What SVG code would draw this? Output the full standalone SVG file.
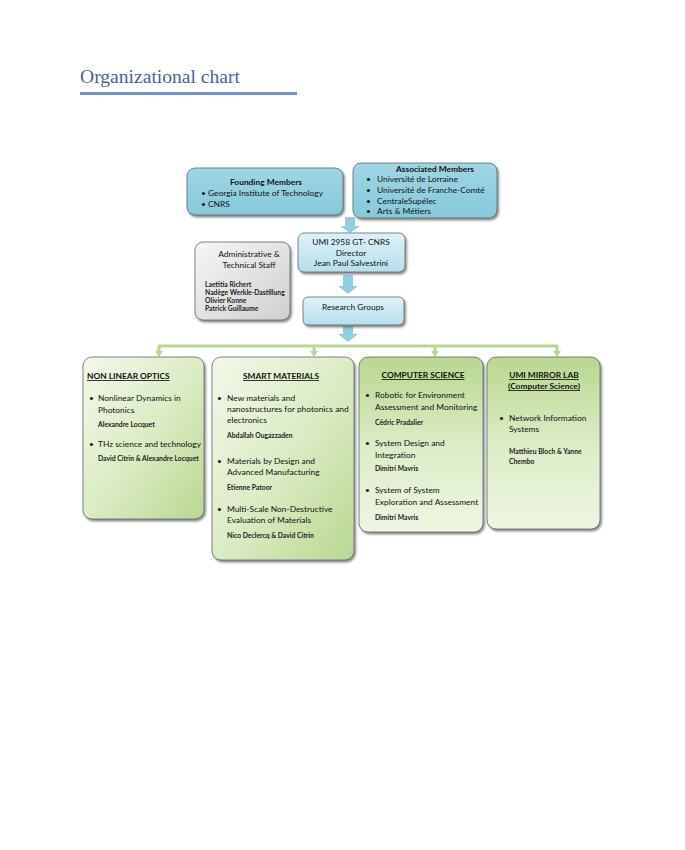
<svg xmlns="http://www.w3.org/2000/svg" width="685" height="850" viewBox="0 0 685 850">
<defs>
  <linearGradient id="gTeal" x1="0" y1="0" x2="0" y2="1">
    <stop offset="0" stop-color="#9fd6e4"/>
    <stop offset="1" stop-color="#86c9db"/>
  </linearGradient>
  <linearGradient id="gLightBlue" x1="0" y1="0" x2="0" y2="1">
    <stop offset="0" stop-color="#dff1f8"/>
    <stop offset="1" stop-color="#b5dfec"/>
  </linearGradient>
  <linearGradient id="gGray" x1="0" y1="0" x2="1" y2="1">
    <stop offset="0" stop-color="#f6f6f6"/>
    <stop offset="1" stop-color="#cfcfcf"/>
  </linearGradient>
  <linearGradient id="gGreen" x1="0" y1="0" x2="1" y2="1">
    <stop offset="0" stop-color="#f3f8ea"/>
    <stop offset="0.5" stop-color="#dcecc5"/>
    <stop offset="1" stop-color="#b9d891"/>
  </linearGradient>
  <linearGradient id="gGreen2" x1="0" y1="0" x2="0" y2="1">
    <stop offset="0" stop-color="#b8d78f"/>
    <stop offset="0.5" stop-color="#dcecc6"/>
    <stop offset="1" stop-color="#eef6e2"/>
  </linearGradient>
  <filter id="shadow" x="-10%" y="-10%" width="125%" height="125%">
    <feDropShadow dx="1.5" dy="2" stdDeviation="1.2" flood-color="#555" flood-opacity="0.7"/>
  </filter>
</defs>
<style>
  .t { font-family: Lato, "Liberation Sans", sans-serif; fill: #111; }
  .m { font-size: 8.4px; }
  .b { font-weight: bold; }
  .s { font-size: 6.8px; font-weight: bold; fill: #222; }
  .c { text-anchor: middle; }
  .u { text-decoration: underline; }
  .box { stroke: #5f6b70; stroke-width: 0.8; filter: url(#shadow); }
  .arrow { fill: #8fcfe0; }
  .conn { stroke: #b7d795; stroke-width: 3; fill: none; }
  .connhead { fill: #b7d795; }
</style>

<g id="title">
  <text x="80" y="83" font-family="'Liberation Serif', serif" font-size="19.5" fill="#4b5fa0" textLength="160" lengthAdjust="spacingAndGlyphs">Organizational chart</text>
  <rect x="80" y="92" width="217" height="3" fill="#7391c8"/>
</g>

<g id="connectors">
  <polygon class="arrow" points="345,217 355,217 355,226 360,226 350,233 340,226 345,226"/>
  <polygon class="arrow" points="343,275 353,275 353,286 358,286 348,294 338,286 343,286"/>
  <polygon class="arrow" points="343,326 353,326 353,334 358,334 348,342 338,334 343,334"/>
  <path class="conn" d="M158,346 H558"/>
  <path class="conn" d="M159,346 V352 M314,346 V352 M435,346 V352 M557,346 V352"/>
  <polygon class="connhead" points="155,351 163,351 159,357"/>
  <polygon class="connhead" points="310,351 318,351 314,357"/>
  <polygon class="connhead" points="431,351 439,351 435,357"/>
  <polygon class="connhead" points="553,351 561,351 557,357"/>
</g>

<g id="founding">
  <rect class="box" x="187" y="168" width="156" height="47" rx="8" fill="url(#gTeal)"/>
  <text class="t m b c" x="266" y="185">Founding Members</text>
  <text class="t m" x="201" y="196">• Georgia Institute  of Technology</text>
  <text class="t m" x="201" y="207">• CNRS</text>
</g>

<g id="associated">
  <rect class="box" x="353" y="163" width="144" height="55" rx="8" fill="url(#gTeal)"/>
  <text class="t m b c" x="435" y="172">Associated Members</text>
  <text class="t m" x="366" y="182">•</text><text class="t m" x="377" y="182">Université de Lorraine</text>
  <text class="t m" x="366" y="193">•</text><text class="t m" x="377" y="193">Université de Franche-Comté</text>
  <text class="t m" x="366" y="204">•</text><text class="t m" x="377" y="204">CentraleSupélec</text>
  <text class="t m" x="366" y="214">•</text><text class="t m" x="377" y="214">Arts &amp; Métiers</text>
</g>

<g id="umi">
  <rect class="box" x="298" y="233" width="107" height="39" rx="6" fill="url(#gLightBlue)"/>
  <text class="t m c" x="351" y="245">UMI 2958 GT- CNRS</text>
  <text class="t m c" x="351" y="256">Director</text>
  <text class="t m c" x="351" y="266">Jean Paul Salvestrini</text>
</g>

<g id="admin">
  <rect class="box" x="195" y="242" width="95" height="78" rx="8" fill="url(#gGray)"/>
  <text class="t m c" x="249" y="257">Administrative &amp;</text>
  <text class="t m c" x="249" y="268">Technical Staff</text>
  <text class="t s" x="205" y="287">Laetitia Richert</text>
  <text class="t s" x="205" y="295">Nadège Werkle-Dastillung</text>
  <text class="t s" x="205" y="303">Olivier Konne</text>
  <text class="t s" x="205" y="311">Patrick Guillaume</text>
</g>

<g id="research">
  <rect class="box" x="303" y="297" width="101" height="28" rx="5" fill="url(#gLightBlue)"/>
  <text class="t m c" x="353" y="310">Research Groups</text>
</g>

<g id="nlo">
  <rect class="box" x="83" y="357" width="121" height="162" rx="9" fill="url(#gGreen)"/>
  <text class="t m b u" x="87" y="379">NON LINEAR OPTICS</text>
  <text class="t m" x="89" y="401">•</text>
  <text class="t m" x="98" y="401">Nonlinear Dynamics in</text>
  <text class="t m" x="98" y="413">Photonics</text>
  <text class="t s" x="98" y="427">Alexandre Locquet</text>
  <text class="t m" x="89" y="447">•</text>
  <text class="t m" x="98" y="447">THz science and technology</text>
  <text class="t s" x="98" y="461">David Citrin &amp; Alexandre Locquet</text>
</g>

<g id="smart">
  <rect class="box" x="212" y="357" width="142" height="203" rx="9" fill="url(#gGreen)"/>
  <text class="t m b u c" x="281" y="379">SMART MATERIALS</text>
  <text class="t m" x="217" y="401">•</text>
  <text class="t m" x="227" y="401">New materials and</text>
  <text class="t m" x="227" y="412">nanostructures for photonics and</text>
  <text class="t m" x="227" y="423">electronics</text>
  <text class="t s" x="227" y="438">Abdallah Ougazzaden</text>
  <text class="t m" x="217" y="464">•</text>
  <text class="t m" x="227" y="464">Materials by Design and</text>
  <text class="t m" x="227" y="475">Advanced Manufacturing</text>
  <text class="t s" x="227" y="490">Etienne Patoor</text>
  <text class="t m" x="217" y="512">•</text>
  <text class="t m" x="227" y="512">Multi-Scale Non-Destructive</text>
  <text class="t m" x="227" y="523">Evaluation of Materials</text>
  <text class="t s" x="227" y="538">Nico Declercq &amp; David Citrin</text>
</g>

<g id="cs">
  <rect class="box" x="359" y="357" width="124" height="175" rx="9" fill="url(#gGreen2)"/>
  <text class="t m b u c" x="423" y="378">COMPUTER SCIENCE</text>
  <text class="t m" x="365" y="398">•</text>
  <text class="t m" x="375" y="398">Robotic for Environment</text>
  <text class="t m" x="375" y="410">Assessment and Monitoring</text>
  <text class="t s" x="375" y="425">Cédric Pradalier</text>
  <text class="t m" x="365" y="446">•</text>
  <text class="t m" x="375" y="446">System Design and</text>
  <text class="t m" x="375" y="458">Integration</text>
  <text class="t s" x="375" y="471">Dimitri Mavris</text>
  <text class="t m" x="365" y="493">•</text>
  <text class="t m" x="375" y="493">System of System</text>
  <text class="t m" x="375" y="505">Exploration and Assessment</text>
  <text class="t s" x="375" y="520">Dimitri Mavris</text>
</g>

<g id="mirror">
  <rect class="box" x="487" y="357" width="113" height="172" rx="9" fill="url(#gGreen2)"/>
  <text class="t m b u c" x="544" y="378">UMI MIRROR LAB</text>
  <text class="t m b u c" x="544" y="389">(Computer Science)</text>
  <text class="t m" x="499" y="421">•</text>
  <text class="t m" x="509" y="421">Network Information</text>
  <text class="t m" x="509" y="432">Systems</text>
  <text class="t s" x="509" y="454">Matthieu Bloch &amp; Yanne</text>
  <text class="t s" x="509" y="464">Chembo</text>
</g>
</svg>
